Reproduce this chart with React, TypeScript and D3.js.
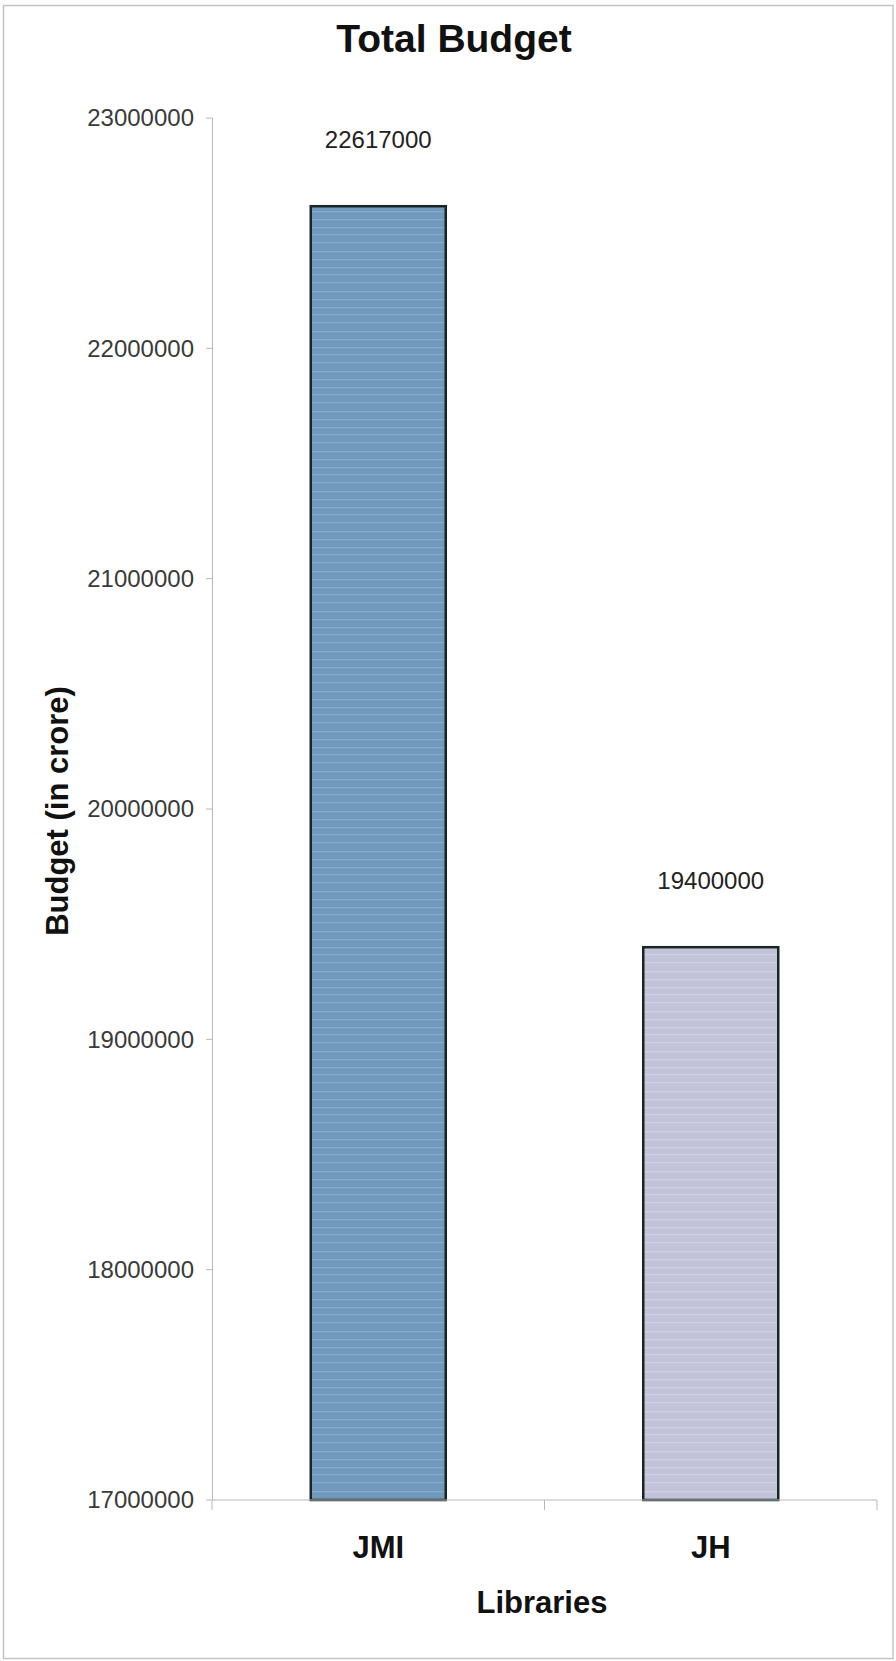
import React from "react";
import * as d3 from "d3";

// Chart data
const categories: string[] = ["JMI", "JH"];
const budgets: number[] = [22617000, 19400000];
const yTicks: number[] = [17000000, 18000000, 19000000, 20000000, 21000000, 22000000, 23000000];
const barFills: string[] = ["#7199bb", "#c2c3d9"];
const stripeFills: string[] = ["#8db4d2", "#d6d8e8"];

const W = 896;
const H = 1661;
const FONT = "'Liberation Sans', Arial, Helvetica, sans-serif";

export default function App() {
  const x = d3
    .scaleBand<string>()
    .domain(categories)
    .range([212, 877])
    .paddingInner(0.594)
    .paddingOuter(0.297);
  const y = d3.scaleLinear().domain([17000000, 23000000]).range([1500, 118]);
  const axisX = 212.5;
  const baseY = y(17000000);
  const step = x.step();
  const boundaries = d3.range(categories.length + 1).map((i) => 212 + i * step);
  const stripeRows = [2, 11, 19, 27, 34];

  return (
    <svg
      width={W}
      height={H}
      viewBox={`0 0 ${W} ${H}`}
      style={{ position: "absolute", left: 0, top: 0, background: "#fff" }}
      fontFamily={FONT}
    >
      <defs>
        {categories.map((c, i) => (
          <pattern key={c} id={`stripes-${i}`} width={40} height={40} patternUnits="userSpaceOnUse">
            <rect width={40} height={40} fill={barFills[i]} />
            {stripeRows.map((r) => (
              <rect key={r} x={0} y={r} width={40} height={1.2} fill={stripeFills[i]} opacity={0.7} />
            ))}
          </pattern>
        ))}
      </defs>

      {/* outer frame */}
      <rect x={3.5} y={5.5} width={889.5} height={1653} fill="none" stroke="#c4c4c4" strokeWidth={1.5} />

      {/* title */}
      <text x={454} y={52} textAnchor="middle" fontSize={39} fontWeight="bold" fill="#111">
        Total Budget
      </text>

      {/* value axis */}
      <line x1={axisX} x2={axisX} y1={y(23000000)} y2={baseY} stroke="#b8b8b8" strokeWidth={1} />
      {yTicks.map((t) => (
        <g key={t}>
          <line x1={206} x2={axisX} y1={y(t)} y2={y(t)} stroke="#b8b8b8" strokeWidth={1} />
          <text x={194} y={y(t)} dy="0.35em" textAnchor="end" fontSize={24} fill="#3a3a3a">
            {t}
          </text>
        </g>
      ))}

      {/* bars */}
      {categories.map((c, i) => (
        <rect
          key={c}
          x={x(c)}
          y={y(budgets[i])}
          width={x.bandwidth()}
          height={baseY - y(budgets[i])}
          fill={`url(#stripes-${i})`}
          stroke="#1b2424"
          strokeWidth={2.5}
        />
      ))}

      {/* value labels */}
      {categories.map((c, i) => (
        <text
          key={c}
          x={(x(c) as number) + x.bandwidth() / 2}
          y={y(budgets[i]) - 58}
          textAnchor="middle"
          fontSize={24}
          fill="#222"
        >
          {budgets[i]}
        </text>
      ))}

      {/* category axis */}
      <line x1={212} x2={877} y1={baseY} y2={baseY} stroke="#b8b8b8" strokeWidth={1} />
      {boundaries.map((b) => (
        <line key={b} x1={b} x2={b} y1={baseY} y2={baseY + 10} stroke="#b8b8b8" strokeWidth={1} />
      ))}
      {categories.map((c) => (
        <text
          key={c}
          x={(x(c) as number) + x.bandwidth() / 2}
          y={1558}
          textAnchor="middle"
          fontSize={31}
          fontWeight="bold"
          fill="#111"
        >
          {c}
        </text>
      ))}

      {/* axis titles */}
      <text x={542} y={1613} textAnchor="middle" fontSize={31} fontWeight="bold" fill="#111">
        Libraries
      </text>
      <text
        x={68}
        y={811}
        transform="rotate(-90 68 811)"
        textAnchor="middle"
        fontSize={31}
        fontWeight="bold"
        fill="#111"
      >
        Budget (in crore)
      </text>
    </svg>
  );
}
